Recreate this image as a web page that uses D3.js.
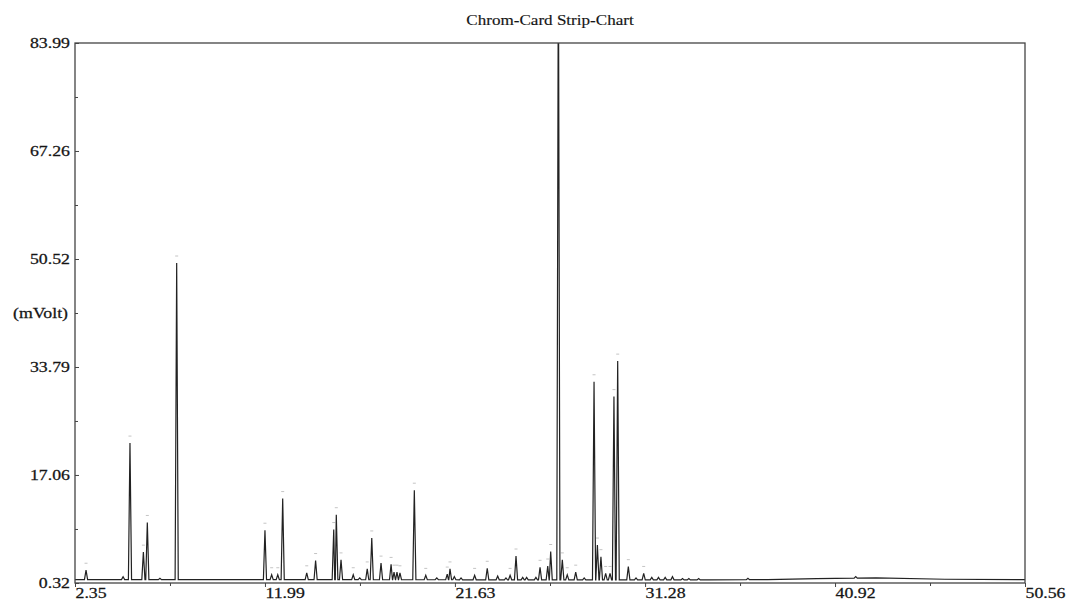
<!DOCTYPE html>
<html>
<head>
<meta charset="utf-8">
<script src="https://cdn.jsdelivr.net/npm/d3@7"></script>
<style>
  body { margin: 0; background: #fff; }
  #chart { width: 1076px; height: 601px; }
  .lbl { font-family: "Liberation Serif", "DejaVu Serif", serif; font-size: 14px; fill: #151515; stroke: #151515; stroke-width: 0.25; }
</style>
</head>
<body>
<div id="chart"></div>
<script>
const chartTitle = "Chrom-Card Strip-Chart";
const yAxisLabel = "(mVolt)";
const xTickLabels = [2.35, 11.99, 21.63, 31.28, 40.92, 50.56];
const yTickLabels = [0.32, 17.06, 33.79, 50.52, 67.26, 83.99];

// retention time (min) and peak height (mV)
const peakTimes = [2.91, 4.79, 5.14, 5.82, 6.02, 6.66, 7.51,
    11.99, 12.33, 12.64, 12.89, 14.11, 14.56, 15.48, 15.61, 15.85, 16.47, 16.80,
    17.18, 17.41, 17.88, 18.39, 18.54, 18.69, 18.84, 19.57, 20.15, 20.71,
    21.24, 21.38, 21.60, 21.94, 22.63, 23.27, 23.80, 24.22, 24.43, 24.73,
    25.07, 25.27, 25.74, 25.95, 26.34, 26.49, 26.88, 27.08, 27.33, 27.76, 28.19,
    28.69, 28.86, 29.04, 29.28, 29.50, 29.70, 29.89, 30.43, 30.82, 31.21,
    31.62, 31.96, 32.30, 32.67, 33.18, 33.50, 34.00, 36.50, 41.97];
const peakHeights = [2.3, 1.3, 22.0, 5.1, 9.7, 1.05, 49.9,
    8.5, 1.6, 1.6, 13.4, 1.9, 3.8, 8.6, 10.9, 3.9, 1.6, 1.1,
    2.5, 7.3, 3.4, 3.2, 2.0, 2.0, 1.9, 14.7, 1.5, 1.1,
    1.7, 2.5, 1.3, 1.1, 1.5, 2.6, 1.4, 1.1, 1.5, 4.5,
    1.2, 1.2, 1.2, 2.75, 2.95, 5.2, 100, 3.9, 1.6, 2.0, 1.1,
    31.5, 6.2, 4.4, 1.8, 1.8, 29.2, 34.7, 2.85, 1.1, 1.8,
    1.2, 1.2, 1.2, 1.3, 1.0, 1.0, 1.0, 1.05, 1.3];

// slow baseline drift
const baseTimes = [2.35, 34.5, 37.5, 40.0, 43.0, 46.5, 50.56];
const baseValues = [0.85, 0.8, 0.85, 1.0, 1.1, 0.9, 0.85];

function renderChrom(containerSelector) {
    const container = d3.select(containerSelector);
    const width = 1076, height = 601;
    const margin = { top: 43, right: 51, bottom: 18, left: 75 };
    const stretch = "scale(1.27,1)";

    const svg = container.append("svg")
        .attr("width", width)
        .attr("height", height);

    const x = d3.scaleLinear()
        .domain([xTickLabels[0], xTickLabels[xTickLabels.length - 1]])
        .range([margin.left, width - margin.right]);

    const y = d3.scaleLinear()
        .domain([yTickLabels[0], yTickLabels[yTickLabels.length - 1]])
        .range([height - margin.bottom, margin.top]);

    const baseAt = d3.scaleLinear().domain(baseTimes).range(baseValues);

    // build the trace: baseline + narrow triangular peaks
    const halfW = 0.08;
    let pts = baseTimes.map((t, i) => [t, baseValues[i]]);
    peakTimes.forEach((t, i) => {
        pts.push([t - halfW, baseAt(t)], [t, peakHeights[i]], [t + halfW, baseAt(t)]);
    });
    pts.sort((a, b) => a[0] - b[0]);

    svg.append("clipPath").attr("id", "plotClip")
        .append("rect")
        .attr("x", margin.left).attr("y", margin.top)
        .attr("width", width - margin.left - margin.right)
        .attr("height", height - margin.top - margin.bottom);

    const line = d3.line().x(d => x(d[0])).y(d => y(d[1]));

    // little peak marks left by the integrator
    svg.append("g")
        .selectAll("line")
        .data(peakTimes.map((t, i) => [t, peakHeights[i]]).filter(d => d[1] >= 1.5 && d[1] < 80))
        .join("line")
        .attr("x1", d => x(d[0]) - 1.5)
        .attr("x2", d => x(d[0]) + 1.5)
        .attr("y1", d => y(d[1]) - 7)
        .attr("y2", d => y(d[1]) - 7)
        .attr("stroke", "#c4c4c4")
        .attr("stroke-width", 1);

    svg.append("path")
        .datum(pts)
        .attr("clip-path", "url(#plotClip)")
        .attr("fill", "none")
        .attr("stroke", "#222")
        .attr("stroke-width", 1.2)
        .attr("stroke-linejoin", "miter")
        .attr("d", line);

    // frame
    svg.append("rect")
        .attr("x", margin.left).attr("y", margin.top)
        .attr("width", width - margin.left - margin.right)
        .attr("height", height - margin.top - margin.bottom)
        .attr("fill", "none")
        .attr("stroke", "#444")
        .attr("stroke-width", 1.3);

    // minor ticks halfway between labelled ones
    const xMinor = d3.pairs(xTickLabels).map(p => (p[0] + p[1]) / 2);
    const yMinor = d3.pairs(yTickLabels).map(p => (p[0] + p[1]) / 2);

    const xAxis = svg.append("g")
        .attr("transform", `translate(0,${height - margin.bottom})`)
        .call(d3.axisBottom(x).tickValues(xTickLabels).tickSize(4).tickFormat(d3.format(".2f")));
    xAxis.select(".domain").remove();
    xAxis.selectAll("line").attr("stroke", "#444");
    xAxis.selectAll("text")
        .attr("class", "lbl")
        .attr("text-anchor", "start")
        .attr("y", 15).attr("dy", 0)
        .attr("transform", stretch);

    svg.append("g")
        .attr("transform", `translate(0,${height - margin.bottom})`)
        .call(d3.axisBottom(x).tickValues(xMinor).tickSize(3).tickFormat(""))
        .call(g => g.select(".domain").remove())
        .selectAll("line").attr("stroke", "#444");

    const yAxis = svg.append("g")
        .attr("transform", `translate(${margin.left},0)`)
        .call(d3.axisLeft(y).tickValues(yTickLabels).tickSize(-4).tickPadding(4).tickFormat(d3.format(".2f")));
    yAxis.select(".domain").remove();
    yAxis.selectAll("line").attr("stroke", "#444");
    yAxis.selectAll("text")
        .attr("class", "lbl")
        .attr("transform", stretch);
    yAxis.attr("font-size", null).attr("font-family", null);
    xAxis.attr("font-size", null).attr("font-family", null);

    svg.append("g")
        .attr("transform", `translate(${margin.left},0)`)
        .call(d3.axisLeft(y).tickValues(yMinor).tickSize(-3).tickFormat(""))
        .call(g => g.select(".domain").remove())
        .selectAll("line").attr("stroke", "#444");

    // y axis unit, sits between the 50.52 and 33.79 labels
    svg.append("text")
        .attr("class", "lbl")
        .attr("text-anchor", "end")
        .attr("transform", `translate(${margin.left - 7},${(y(yTickLabels[2]) + y(yTickLabels[3])) / 2}) ${stretch}`)
        .attr("dy", "0.35em")
        .text(yAxisLabel);

    // title
    svg.append("text")
        .attr("class", "lbl")
        .attr("text-anchor", "middle")
        .style("stroke-width", 0.15)
        .attr("transform", `translate(${(margin.left + width - margin.right) / 2},25) scale(1.22,1)`)
        .text(chartTitle);
}

renderChrom("#chart");
</script>
</body>
</html>
